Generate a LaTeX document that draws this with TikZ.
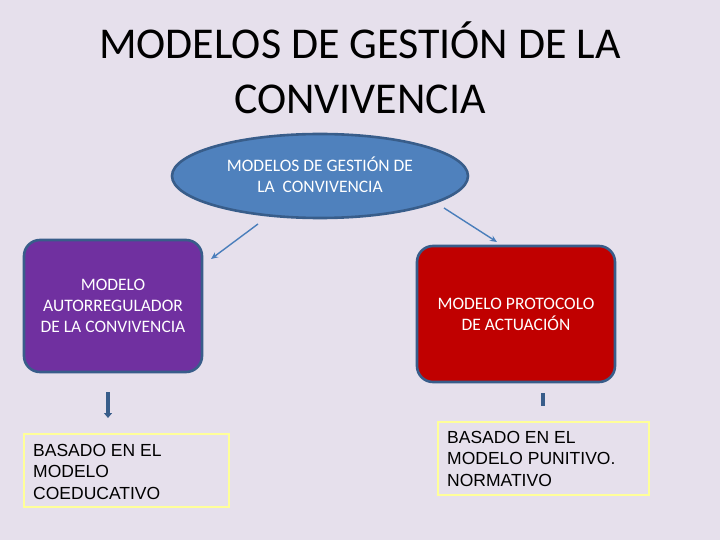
\documentclass[tikz,border=0pt]{standalone}
\usepackage{fontspec}
\setmainfont{Carlito}
\newfontfamily\arialf{Liberation Sans}
\usetikzlibrary{shapes.geometric,arrows.meta}
\definecolor{bgc}{HTML}{E6E0EC}
\definecolor{ellfill}{HTML}{4F81BD}
\definecolor{bord}{HTML}{385D8A}
\definecolor{purp}{HTML}{7030A0}
\definecolor{redb}{HTML}{C00000}
\definecolor{ylw}{HTML}{FFFF99}
\definecolor{arrc}{HTML}{4A7EBB}
\tikzset{
  titletext/.style={font=\fontsize{44}{55}\selectfont, align=center, text=black},
  bigbox/.style={draw=bord, line width=2.6pt, rounded corners=16pt, text=white,
    font=\fontsize{17.5}{21}\selectfont, align=center, inner sep=0pt},
  basebox/.style={draw=ylw, line width=2pt, inner sep=0pt},
  basetext/.style={font=\arialf\fontsize{17.5}{21.5}\selectfont, align=left, anchor=base west, inner sep=0pt, text=black},
  thinarrow/.style={draw=arrc, line width=1.4pt, -{Stealth[length=7pt,width=6pt]}},
  fatarrow/.style={draw=bord, line width=4.5pt, -{Triangle[length=5pt,width=8pt]}},
}
\begin{document}
\begin{tikzpicture}[x=1pt,y=-1pt]
\fill[bgc] (0,0) rectangle (720,540);
\useasboundingbox (0,0) rectangle (720,540);
\node[titletext] (title) at (360,68) {MODELOS DE GESTIÓN DE LA\\CONVIVENCIA};
\node[ellipse, draw=bord, fill=ellfill, line width=2.6pt, minimum width=296pt, minimum height=84pt,
  text=white, font=\fontsize{17.5}{21}\selectfont, align=center, inner sep=0pt] (ell) at (320,176)
  {MODELOS DE GESTIÓN DE\\LA \ CONVIVENCIA\vphantom{g}};
\node[bigbox, fill=purp, minimum width=178pt, minimum height=132pt] (left) at (113,306)
  {MODELO\\AUTORREGULADOR\\DE LA CONVIVENCIA};
\node[bigbox, fill=redb, minimum width=198pt, minimum height=136pt] (right) at (516,314)
  {MODELO PROTOCOLO\\DE ACTUACIÓN};
\coordinate (l1) at (258,224);
\coordinate (l2) at (211,259);
\coordinate (r1) at (444,208);
\coordinate (r2) at (497,242);
\draw[thinarrow] (l1) -- (l2);
\draw[thinarrow] (r1) -- (r2);
\node[basebox, minimum width=205pt, minimum height=73pt] (lb) at (126.5,470.5) {};
\node[basebox, minimum width=211pt, minimum height=73pt] (rb) at (543.5,458.5) {};
\node[basetext] (lbt) at (33,499) {BASADO EN EL\\MODELO\\COEDUCATIVO};
\node[basetext] (rbt) at (447,486) {BASADO EN EL\\MODELO PUNITIVO.\\NORMATIVO};
\coordinate (la1) at (108,392);
\coordinate (la2) at (108,418);
\draw[fatarrow] (la1) -- (la2);
\coordinate (ra1) at (543,393);
\coordinate (ra2) at (543,406);
\draw[draw=bord, line width=3.5pt] (ra1) -- (ra2);
\end{tikzpicture}
\end{document}
